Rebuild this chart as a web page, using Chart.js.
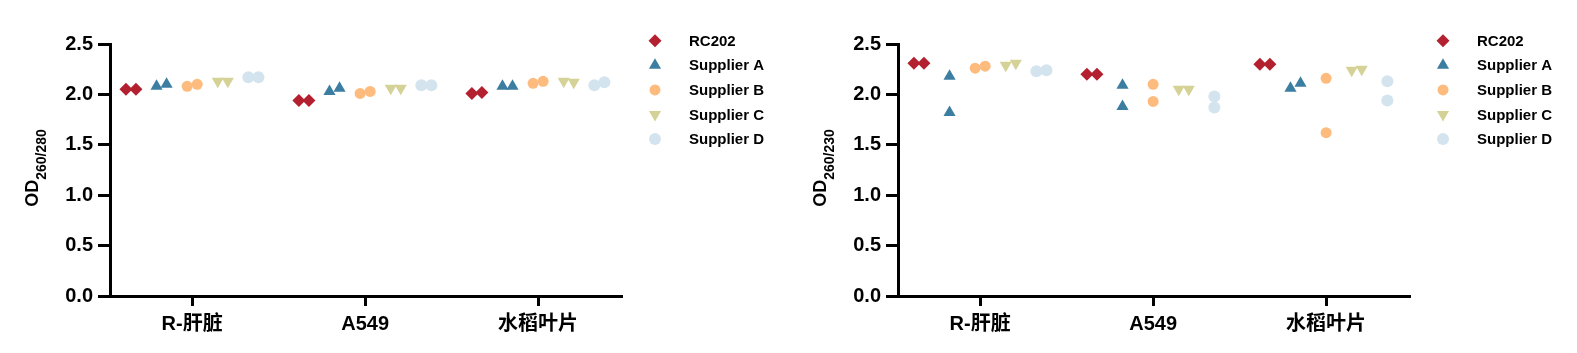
<!DOCTYPE html>
<html>
<head>
<meta charset="utf-8">
<script src="https://cdn.jsdelivr.net/npm/chart.js@4"></script>
<style>
  html, body { margin: 0; padding: 0; background: #fff; }
  body { width: 1577px; height: 353px; position: relative; overflow: hidden; }
  .panel { position: absolute; top: 0; width: 788px; height: 353px; }
  #left { left: 0; }
  #right { left: 788px; }
</style>
</head>
<body>
<div class="panel" id="left"><canvas id="chart-280" width="788" height="353"></canvas></div>
<div class="panel" id="right"><canvas id="chart-230" width="788" height="353"></canvas></div>
<script>
const categories = ['R-肝脏', 'A549', '水稻叶片'];
const suppliers = ['RC202', 'Supplier A', 'Supplier B', 'Supplier C', 'Supplier D'];
const colors = ['#b3202f', '#3b7ea2', '#fdbb7e', '#d5d297', '#d4e4ef'];
const yTicks = [0, 0.5, 1.0, 1.5, 2.0, 2.5];

// two replicates per category, in category order
const od280RC202 = [2.05, 2.05, 1.94, 1.94, 2.01, 2.02];
const od280A     = [2.08, 2.10, 2.03, 2.06, 2.08, 2.08];
const od280B     = [2.08, 2.10, 2.01, 2.03, 2.11, 2.13];
const od280C     = [2.13, 2.13, 2.06, 2.06, 2.13, 2.12];
const od280D     = [2.17, 2.17, 2.09, 2.09, 2.09, 2.12];

const od230RC202 = [2.31, 2.31, 2.20, 2.20, 2.30, 2.30];
const od230A     = [2.18, 1.82, 2.09, 1.88, 2.06, 2.11];
const od230B     = [2.26, 2.28, 2.10, 1.93, 2.16, 1.62];
const od230C     = [2.29, 2.31, 2.05, 2.05, 2.24, 2.25];
const od230D     = [2.23, 2.24, 1.98, 1.87, 2.13, 1.94];

// --- marker look per supplier ---
const markers = [
  { pointStyle: 'rectRot', radius: 6.5, rotation: 0 },
  { pointStyle: 'triangle', radius: 7, rotation: 0 },
  { pointStyle: 'circle', radius: 5.5, rotation: 0 },
  { pointStyle: 'triangle', radius: 7, rotation: 180 },
  { pointStyle: 'circle', radius: 6, rotation: 0 },
];

const GROUP_STEP = 0.177;  // spacing of suppliers inside a category
const PAIR_STEP = 0.029;   // nudge for overlapping replicates

// place replicate pairs like a scatter dot plot: spread only when they overlap
function toPoints(values, s) {
  const pts = [];
  for (let c = 0; c < categories.length; c++) {
    const a = values[c * 2];
    const b = values[c * 2 + 1];
    const base = c + (s - 2) * GROUP_STEP;
    const d = Math.abs(a - b) < 0.1 ? PAIR_STEP : 0;
    pts.push({ x: base - d, y: a });
    pts.push({ x: base + d, y: b });
  }
  return pts;
}

// --- y title with subscript + legend ---
const extrasPlugin = {
  id: 'extras',
  afterDraw(chart, args, opts) {
    const ctx = chart.ctx;
    const area = chart.chartArea;

    ctx.save();
    ctx.fillStyle = '#000';
    ctx.textBaseline = 'alphabetic';
    ctx.font = 'bold 18px "Liberation Sans", Arial, sans-serif';
    const wMain = ctx.measureText('OD').width;
    ctx.font = 'bold 14px "Liberation Sans", Arial, sans-serif';
    const wSub = ctx.measureText(opts.sub).width;
    ctx.translate(38, (area.top + area.bottom) / 2 - 2);
    ctx.rotate(-Math.PI / 2);
    const x0 = -(wMain + wSub) / 2;
    ctx.font = 'bold 18px "Liberation Sans", Arial, sans-serif';
    ctx.fillText('OD', x0, 0);
    ctx.font = 'bold 14px "Liberation Sans", Arial, sans-serif';
    ctx.fillText(opts.sub, x0 + wMain, 8);
    ctx.restore();

    ctx.save();
    ctx.font = 'bold 15px "Liberation Sans", Arial, sans-serif';
    ctx.textBaseline = 'middle';
    chart.data.datasets.forEach((ds, i) => {
      const y = 40.7 + i * 24.6;
      ctx.fillStyle = colors[i];
      Chart.helpers.drawPoint(ctx, {
        pointStyle: markers[i].pointStyle,
        radius: markers[i].radius,
        rotation: markers[i].rotation,
        borderWidth: 0,
      }, 655, y);
      ctx.fillStyle = '#000';
      ctx.fillText(ds.label, 689, y + 1);
    });
    ctx.restore();
  }
};

function makeChart(id, series, sub) {
  const ctx = document.getElementById(id).getContext('2d');
  return new Chart(ctx, {
    type: 'scatter',
    data: {
      datasets: series.map((vals, s) => ({
        label: suppliers[s],
        data: toPoints(vals, s),
        backgroundColor: colors[s],
        borderWidth: 0,
        pointStyle: markers[s].pointStyle,
        pointRadius: markers[s].radius,
        pointHoverRadius: markers[s].radius,
        pointRotation: markers[s].rotation,
        clip: false,
      }))
    },
    options: {
      responsive: false,
      animation: false,
      layout: { padding: { left: 0, right: 166, top: 44, bottom: 0 } },
      plugins: {
        legend: { display: false },
        tooltip: { enabled: false },
        extras: { sub: sub },
      },
      scales: {
        x: {
          type: 'linear',
          min: -0.475,
          max: 2.485,
          afterBuildTicks: (scale) => {
            scale.ticks = categories.map((_, i) => ({ value: i }));
          },
          afterFit: (scale) => { scale.height = 57; },
          grid: { drawOnChartArea: false, drawTicks: true, tickLength: 10, tickWidth: 3, color: '#000' },
          border: { display: true, width: 3, color: '#000' },
          ticks: {
            color: '#000',
            padding: 6,
            maxRotation: 0,
            autoSkip: false,
            font: { family: '"Liberation Sans", Arial, "Noto Sans CJK SC", sans-serif', size: 20, weight: 'bold' },
            callback: (v) => categories[v],
          },
        },
        y: {
          min: 0,
          max: 2.5,
          afterBuildTicks: (scale) => {
            scale.ticks = yTicks.map(v => ({ value: v }));
          },
          afterFit: (scale) => { scale.width = 110; },
          grid: { drawOnChartArea: false, drawTicks: true, tickLength: 12, tickWidth: 3, color: '#000' },
          border: { display: true, width: 3, color: '#000' },
          ticks: {
            color: '#000',
            padding: 5,
            font: { family: '"Liberation Sans", Arial, sans-serif', size: 20, weight: 'bold' },
            callback: (v) => v.toFixed(1),
          },
        },
      },
    },
    plugins: [extrasPlugin],
  });
}

makeChart('chart-280', [od280RC202, od280A, od280B, od280C, od280D], '260/280');
makeChart('chart-230', [od230RC202, od230A, od230B, od230C, od230D], '260/230');
</script>
</body>
</html>
